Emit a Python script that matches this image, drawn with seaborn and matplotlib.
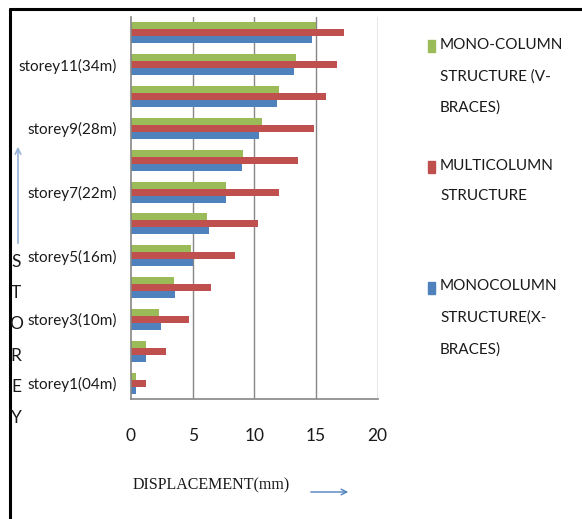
import numpy as np
import pandas as pd
import matplotlib
matplotlib.use("Agg")
import matplotlib.pyplot as plt
from matplotlib.lines import Line2D
from matplotlib.patches import Rectangle
import seaborn as sns

### DATA ###
storeys = ["storey12(40m)", "storey11(34m)", "storey10(31m)", "storey9(28m)",
           "storey8(25m)", "storey7(22m)", "storey6(19m)", "storey5(16m)",
           "storey4(13m)", "storey3(10m)", "storey2(07m)", "storey1(04m)"]
shown_labels = ["", "storey11(34m)", "", "storey9(28m)", "", "storey7(22m)",
                "", "storey5(16m)", "", "storey3(10m)", "", "storey1(04m)"]
mono_v = [15.0, 13.4, 12.0, 10.6, 9.1, 7.7, 6.2, 4.85, 3.5, 2.3, 1.2, 0.4]
multi = [17.3, 16.7, 15.8, 14.8, 13.5, 12.0, 10.3, 8.4, 6.5, 4.7, 2.8, 1.2]
mono_x = [14.7, 13.2, 11.8, 10.4, 9.0, 7.7, 6.3, 5.0, 3.6, 2.4, 1.2, 0.4]
series = ["MONO-COLUMN\nSTRUCTURE (V-\nBRACES)",
          "MULTICOLUMN\nSTRUCTURE",
          "MONOCOLUMN\nSTRUCTURE(X-\nBRACES)"]
colors = ["#9BBB59", "#C0504D", "#4F81BD"]
x_ticks = [0, 5, 10, 15, 20]

df = pd.DataFrame({"storey": storeys * 3,
                   "disp": mono_v + multi + mono_x,
                   "series": np.repeat(series, len(storeys))})

sns.set_style("white")
plt.rcParams["font.family"] = ["Lato", "DejaVu Sans"]

fig = plt.figure(figsize=(5.82, 5.19), dpi=100)
ax = fig.add_axes([131 / 582, 1 - 399 / 519, 246.7 / 582, 382 / 519])

sns.barplot(data=df, y="storey", x="disp", hue="series", order=storeys,
            hue_order=series, palette=colors, orient="h", width=0.66,
            saturation=1, ax=ax, legend=False, edgecolor="none")

ax.set_xlim(0, 20)
ax.set_ylim(11.5, -0.5)
ax.set_xlabel("")
ax.set_ylabel("")

# x axis
ax.set_xticks(x_ticks)
ax.set_xticklabels([str(t) for t in x_ticks], fontsize=12.5)
ax.tick_params(axis="x", length=3, color="#868686", pad=18, labelcolor="#1a1a1a")
for t in x_ticks[1:]:
    ax.axvline(t, color="#868686", lw=1, zorder=0)

# y axis: ticks at category boundaries, labels at centres
ax.set_yticks(np.arange(-0.5, 12, 1))
ax.set_yticklabels([])
ax.tick_params(axis="y", which="major", length=4, color="#868686")
ax.set_yticks(np.arange(12), minor=True)
ax.set_yticklabels(shown_labels, minor=True, fontsize=11, color="#1a1a1a")
ax.tick_params(axis="y", which="minor", length=0, pad=10)

for s in ["top", "right"]:
    ax.spines[s].set_visible(False)
for s in ["left", "bottom"]:
    ax.spines[s].set_color("#868686")
    ax.spines[s].set_linewidth(1.2)

# legend drawn by hand
leg_y = [46, 166.5, 287.5]
for lab, col, yy in zip(series, colors, leg_y):
    fig.patches.append(Rectangle((428 / 582, 1 - (yy + 6) / 519), 7 / 582, 12 / 519,
                                 transform=fig.transFigure, color=col))
    fig.text(440 / 582, 1 - (yy - 8) / 519, lab, fontsize=11, va="top",
             ha="left", linespacing=2.5, color="#1a1a1a")

# axis labels
fig.text(133 / 582, 1 - 485 / 519, "DISPLACEMENT(mm)", fontsize=11.5,
         family=["Liberation Serif", "DejaVu Serif"], va="center", ha="left",
         color="#1a1a1a")
plt.annotate("", xy=(351 / 582, 1 - 492 / 519), xytext=(308 / 582, 1 - 492 / 519),
             xycoords="figure fraction",
             arrowprops=dict(arrowstyle="->", color="#4F81BD", lw=1))
plt.annotate("", xy=(18 / 582, 1 - 144 / 519), xytext=(18 / 582, 1 - 246 / 519),
             xycoords="figure fraction",
             arrowprops=dict(arrowstyle="->", color="#95B3D7", lw=1.2))
for i, ch in enumerate("STOREY"):
    fig.text(16 / 582, 1 - (262 + i * 31.2) / 519, ch, fontsize=12.5,
             ha="center", va="center", color="#1a1a1a")

# outer frame (left and top only)
fig.add_artist(Line2D([9.5 / 582, 9.5 / 582], [0, 1 - 8.5 / 519], color="black", lw=2.2))
fig.add_artist(Line2D([9.5 / 582, 1], [1 - 8.5 / 519, 1 - 8.5 / 519], color="black", lw=2.2))

fig.savefig("out.png", dpi=100)
